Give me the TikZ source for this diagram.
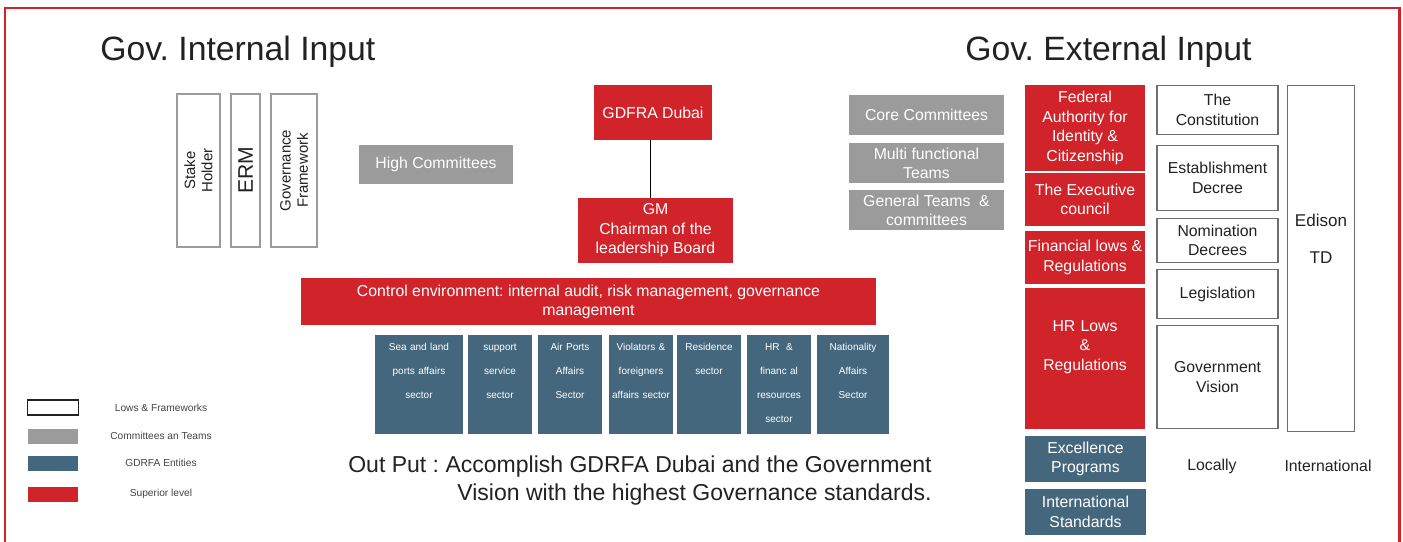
\documentclass[tikz,border=0pt]{standalone}
\usepackage{fontspec}
\setmainfont{Liberation Sans}
\frenchspacing

\definecolor{govred}{HTML}{D1232A}
\definecolor{govgray}{HTML}{9B9B9B}
\definecolor{govblue}{HTML}{44677D}
\definecolor{govline}{HTML}{6E6E6E}
\definecolor{govtext}{HTML}{222222}

\begin{document}
\begin{tikzpicture}[x=0.02cm, y=-0.02cm,
    superior/.style={fill=govred, text=white, align=center, inner sep=0.5pt, font=\fontsize{9}{11.1}\selectfont},
    committee/.style={fill=govgray, text=white, align=center, inner sep=1pt, font=\fontsize{9}{10.8}\selectfont},
    entity/.style={fill=govblue, text=white, align=center, anchor=north, inner xsep=0pt, inner ysep=0pt,
      text height=0.3cm, text depth=1.68cm, font=\fontsize{5.7}{13.7}\selectfont},
    program/.style={fill=govblue, text=white, align=center, inner sep=1pt, minimum width=2.42cm, minimum height=0.92cm,
      font=\fontsize{9}{11}\selectfont},
    law/.style={draw=govline, line width=0.8pt, fill=white, text=govtext, align=center, inner sep=1pt, minimum width=2.42cm,
      font=\fontsize{9}{11}\selectfont},
    pillar/.style={draw=govgray, line width=1.4pt, rotate=90, align=center, inner sep=1pt, minimum width=3.06cm,
      text=govtext, font=\fontsize{8.5}{9.8}\selectfont},
    title/.style={anchor=base west, inner sep=0pt, text=govtext, font=\fontsize{19.2}{22}\selectfont},
    key/.style={minimum width=1.02cm, minimum height=0.3cm, inner sep=0pt},
    keylabel/.style={text=govtext!85, inner sep=0pt, font=\fontsize{5.8}{7}\selectfont}]

  \useasboundingbox (0,0) rectangle (1403,541);
  \draw[govred, line width=1.7pt] (5,545) -- (5,8) -- (1399,8) -- (1399,545);

  \node[title] (internal) at (100,60) {Gov. Internal Input};
  \node[title] (external) at (965,60) {Gov. External Input};

  % internal pillars
  \node[pillar, minimum height=0.86cm] (stake) at (198.5,170.5) {Stake\\Holder};
  \node[pillar, minimum height=0.58cm, font=\fontsize{12}{14}\selectfont] (erm) at (245.5,170.5) {ERM};
  \node[pillar, minimum height=0.92cm] (framework) at (294,170.5) {Governance\\Framework};

  \node[committee, minimum width=3.08cm, minimum height=0.78cm] (high) at (436,164.5) {High Committees};

  \node[superior, minimum width=2.36cm, minimum height=1.1cm] (gdfra) at (653,112.5) {GDFRA Dubai};
  \node[superior, minimum width=3.1cm, minimum height=1.3cm] (gm) at (655.5,230.5) {GM\\Chairman of the\\leadership Board};
  \draw[line width=1.1pt] ([xshift=-0.05cm]gdfra.south) -- ([xshift=-0.05cm]gdfra.south |- gm.north);

  \node[superior, minimum width=11.5cm, minimum height=0.94cm, font=\fontsize{9}{10.8}\selectfont] (control) at (588.5,301.5)
    {Control environment: internal audit, risk management, governance\\management};

  % sectors
  \node[entity, text width=1.76cm] (sealand) at (419,335) {Sea and land\\ports affairs\\sector};
  \node[entity, text width=1.28cm] (support) at (500,335) {support\\service\\sector};
  \node[entity, text width=1.28cm] (airports) at (570,335) {Air Ports\\Affairs\\Sector};
  \node[entity, text width=1.28cm] (violators) at (641,335) {Violators \&\\foreigners\\affairs sector};
  \node[entity, text width=1.28cm] (residence) at (709,335) {Residence\\sector};
  \node[entity, text width=1.28cm] (hrfin) at (779,335) {HR\ \ \&\\financ al\\resources\\sector};
  \node[entity, text width=1.44cm] (nationality) at (853,335) {Nationality\\Affairs\\Sector};

  \node[anchor=east, align=right, inner sep=0pt, text=govtext, font=\fontsize{13.1}{15.9}\selectfont] (output) at (932,481)
    {Out Put : Accomplish GDRFA Dubai and the Government\\Vision with the highest Governance standards.};

  % committees and teams
  \node[committee, minimum width=3.1cm, minimum height=0.8cm] (core) at (926.5,115) {Core Committees};
  \node[committee, minimum width=3.1cm, minimum height=0.8cm] (multi) at (926.5,163) {Multi functional\\Teams};
  \node[committee, minimum width=3.1cm, minimum height=0.8cm] (general) at (926.5,210) {General Teams\ \ \&\\committees};

  % external authorities
  \node[superior, minimum width=2.4cm, minimum height=1.72cm] (federal) at (1085,128) {Federal\\Authority for\\Identity \&\\Citizenship};
  \node[superior, minimum width=2.4cm, minimum height=1.06cm] (executive) at (1085,199.5) {The Executive\\council};
  \node[superior, minimum width=2.4cm, minimum height=1.06cm] (financial) at (1085,257.5) {Financial lows \&\\Regulations};
  \node[superior, text width=2.4cm, inner sep=0pt, text height=0.86cm, text depth=1.96cm] (hrlaws) at (1085,358.5) {HR Lows\\\&\\Regulations};
  \node[program] (excellence) at (1085.5,459) {Excellence\\Programs};
  \node[program] (standards) at (1085.5,512) {International\\Standards};

  % laws
  \node[law, minimum height=0.98cm] (constitution) at (1217.5,110) {The\\Constitution};
  \node[law, minimum height=1.3cm] (establishment) at (1217.5,178) {Establishment\\Decree};
  \node[law, minimum height=0.88cm] (nomination) at (1217.5,240.5) {Nomination\\Decrees};
  \node[law, minimum height=0.98cm] (legislation) at (1217.5,294) {Legislation};
  \node[law, minimum height=2.06cm] (vision) at (1217.5,377) {Government\\Vision};
  \node[law, minimum width=1.34cm, text width=1.34cm, inner sep=0pt, text height=2.82cm, text depth=4.1cm,
    font=\fontsize{9.7}{21}\selectfont] (edison) at (1321,258.5) {Edison\\TD};

  \node[text=govtext, font=\fontsize{9}{11}\selectfont] (locally) at (1212,466) {Locally};
  \node[text=govtext, font=\fontsize{9}{11}\selectfont] (international) at (1328,466) {International};

  % legend
  \node[key, draw=govtext, line width=0.6pt, fill=white] (keylaw) at (53,407.5) {};
  \node[key, fill=govgray] (keycommittee) at (53,436.5) {};
  \node[key, fill=govblue] (keyentity) at (53,463.5) {};
  \node[key, fill=govred] (keysuperior) at (53,494.5) {};
  \node[keylabel] (lawlabel) at (161,408) {Lows \& Frameworks};
  \node[keylabel] (committeelabel) at (161,436) {Committees an Teams};
  \node[keylabel] (entitylabel) at (161,463) {GDRFA Entities};
  \node[keylabel] (superiorlabel) at (161,494) {Superior level};

\end{tikzpicture}
\end{document}
